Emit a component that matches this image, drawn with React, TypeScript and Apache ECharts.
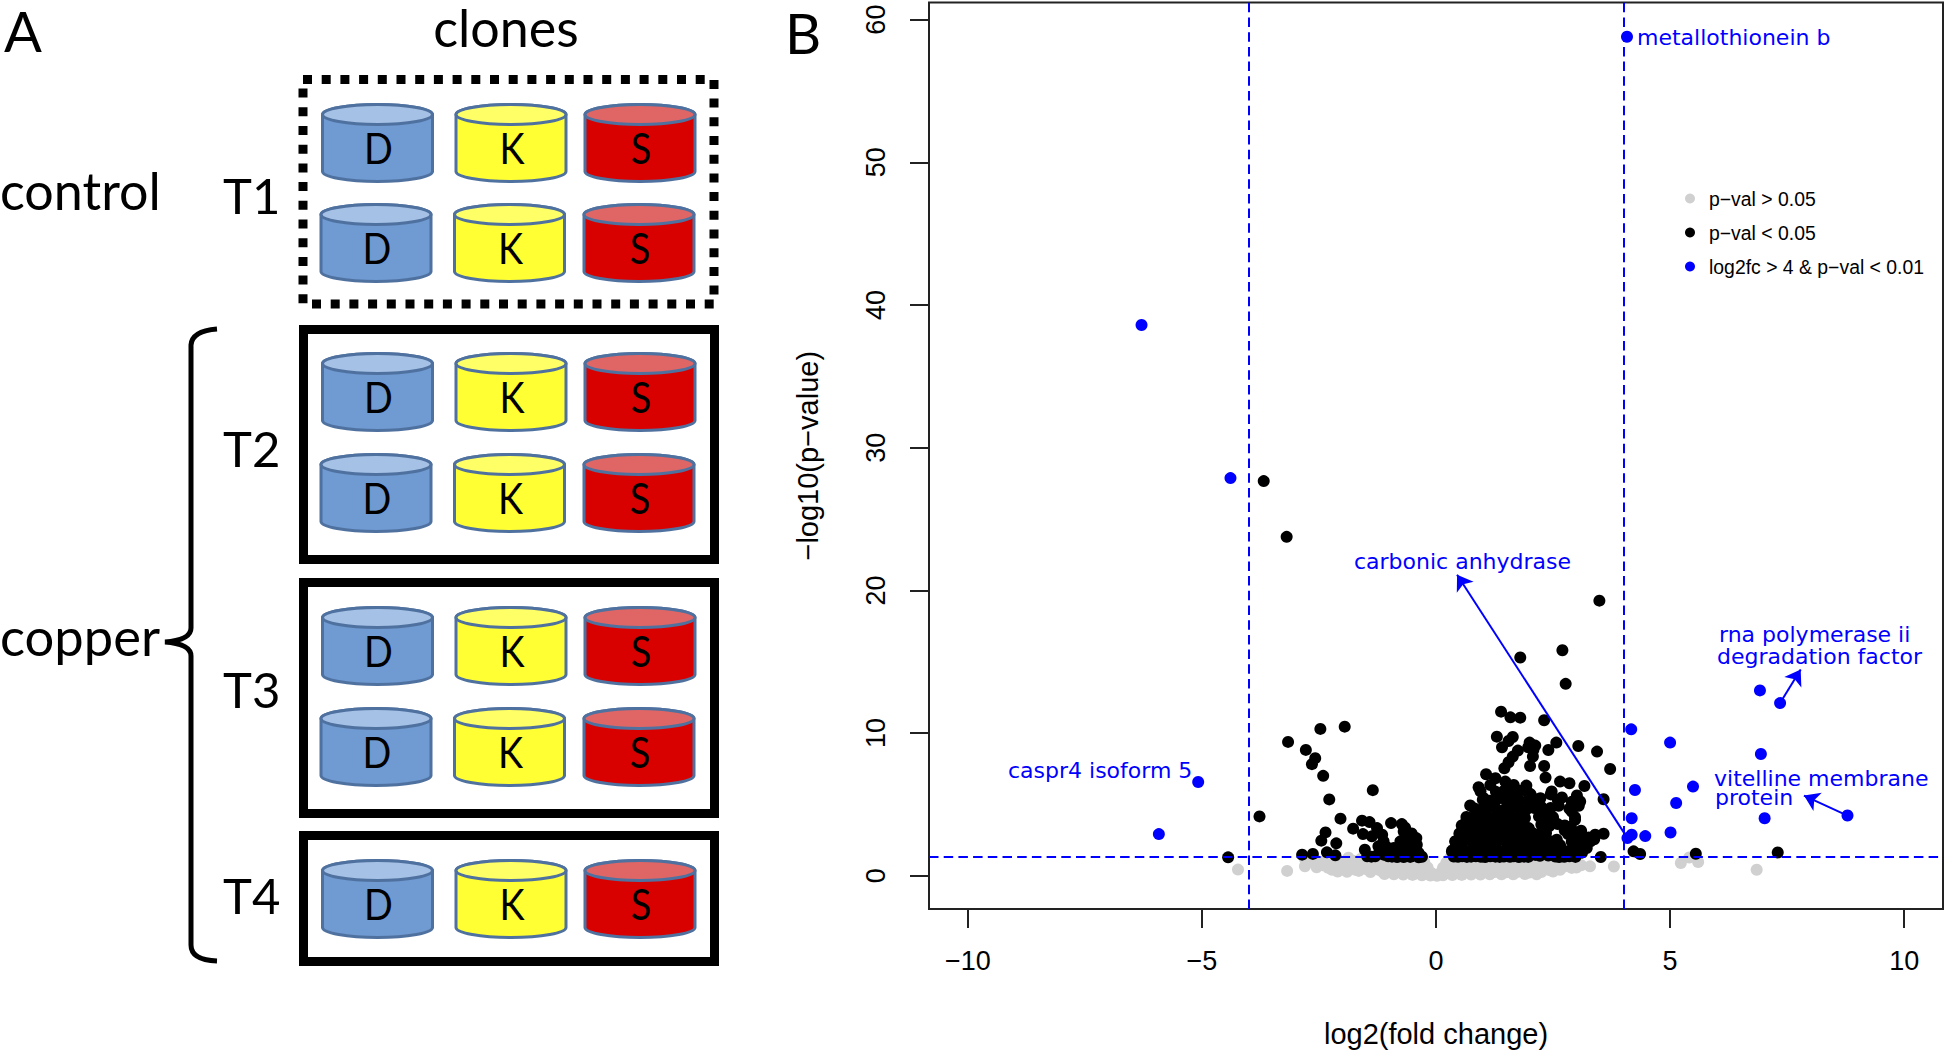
import React, { useEffect, useRef } from "react";
import * as echarts from "echarts";

const xTicks = [-10, -5, 0, 5, 10];
const yTicks = [0, 10, 20, 30, 40, 50, 60];
const foldChangeLimits = [-4, 4];
const pValueLimit = 1.32;

const legendNames = ["p−val > 0.05", "p−val < 0.05", "log2fc > 4 & p−val < 0.01"];

const clones = ["D", "K", "S"];
const bodyColors = ["#6F9AD2", "#FFFF33", "#D90000"];
const capColors = ["#A6C1E6", "#FFFF66", "#E06666"];

const bluePoints = [
  [4.08, 58.8], [-6.29, 38.6], [-4.39, 27.87], [-5.08, 6.57], [-5.92, 2.92],
  [4.17, 10.26], [5.0, 9.33], [6.92, 12.99], [7.35, 12.1], [6.94, 8.53],
  [5.49, 6.25], [4.25, 6.01], [5.13, 5.1], [4.18, 4.03], [7.02, 4.03],
  [8.79, 4.22], [5.01, 3.03], [4.18, 2.87], [4.09, 2.64], [4.47, 2.78],
];

const blackOutliers = [
  [-3.68, 27.66], [-3.19, 23.75], [3.49, 19.28], [1.8, 15.3], [2.7, 15.8], [2.77, 13.45],
  [-4.44, 1.29], [-3.77, 4.16], [-3.16, 9.38], [-2.47, 10.29], [-1.95, 10.45], [-2.78, 8.82],
  [-2.58, 8.24], [-2.65, 7.82], [-2.41, 7.0], [-2.28, 5.35], [-1.35, 6.0], [-2.04, 4.0],
  [-1.77, 3.3], [-2.36, 3.04], [-2.45, 2.46], [-2.13, 2.27], [-2.33, 1.64], [-2.15, 1.43],
  [-2.86, 1.48], [-2.63, 1.53], [4.22, 1.71], [4.36, 1.52], [5.55, 1.54], [7.3, 1.63], [3.52, 1.31],
];

const blackLeftCluster = [
  [-1.58, 3.86], [-1.42, 3.76], [-1.56, 2.92], [-1.26, 3.34], [-1.37, 2.76], [-1.15, 2.88],
  [-1.12, 2.41], [-1.23, 2.06], [-1.52, 1.83], [-1.47, 1.36], [-1.3, 1.36], [-1.12, 1.48],
  [-0.96, 3.69], [-0.73, 3.62], [-0.69, 3.11], [-0.59, 2.76], [-0.42, 2.64], [-0.76, 2.41],
  [-0.59, 2.3], [-0.41, 2.18], [-0.9, 1.95], [-0.76, 1.83], [-0.55, 1.71], [-0.37, 1.6],
  [-0.83, 1.31], [-0.69, 1.31], [-0.55, 1.32], [-0.37, 1.3], [-0.3, 1.33], [-0.94, 1.34],
  [-1.2, 1.7], [-1.05, 2.0], [-0.65, 1.55], [-0.46, 1.95], [-0.66, 3.36], [-0.52, 2.96],
  [-1.38, 1.34], [-1.02, 1.36],
];

const blackRightTop = [
  [1.39, 11.5], [1.59, 11.1], [1.8, 11.08], [2.31, 10.9], [1.3, 9.75], [1.64, 9.72], [1.55, 9.44],
  [1.41, 9.0], [1.75, 8.77], [2.0, 9.33], [2.12, 9.12], [1.97, 9.0], [2.08, 8.81], [2.4, 8.81],
  [2.57, 9.33], [3.04, 9.09], [3.44, 8.7], [3.72, 7.48], [1.64, 8.35], [1.55, 7.95], [1.46, 7.53],
  [2.07, 8.35], [2.01, 7.69], [2.31, 7.69], [2.34, 6.88], [2.65, 6.6], [2.85, 6.48], [3.17, 6.29],
  [3.58, 5.36], [1.07, 7.11], [1.27, 6.83], [1.48, 6.6], [1.66, 6.36], [1.93, 6.32], [0.91, 6.2],
  [1.16, 6.36], [1.02, 5.43], [0.73, 4.92], [0.95, 4.38], [0.65, 3.85], [0.41, 2.4], [0.34, 1.7],
  [3.58, 2.94], [3.4, 2.87], [3.26, 2.68], [2.97, 3.92], [2.9, 4.5], [3.08, 5.2], [3.01, 5.62],
  [2.47, 5.9], [2.69, 5.48], [2.23, 5.43],
];

const blackRightCloud = [
  [0.38, 1.35], [0.47, 1.33], [0.56, 1.36], [0.66, 1.32], [0.75, 1.34], [0.85, 1.37], [0.96, 1.33],
  [1.05, 1.31], [1.16, 1.36], [1.27, 1.34], [1.36, 1.32], [1.45, 1.35], [1.58, 1.33], [1.66, 1.36],
  [1.77, 1.31], [1.88, 1.34], [1.97, 1.32], [2.55, 1.35], [2.63, 1.31], [2.74, 1.33], [2.85, 1.36],
  [2.98, 1.32],
  [0.35, 1.78], [0.48, 1.84], [0.62, 1.72], [0.78, 1.88], [0.93, 1.76], [1.08, 1.82], [1.21, 1.9],
  [1.36, 1.74], [1.5, 1.86], [1.65, 1.79], [1.82, 1.9], [1.95, 1.72], [2.1, 1.85], [2.22, 1.92],
  [2.36, 1.88], [2.5, 1.77], [2.68, 1.9], [2.85, 1.74], [2.98, 1.86], [3.1, 1.94],
  [0.42, 2.41], [0.57, 2.36], [0.73, 2.46], [0.88, 2.38], [1.02, 2.44], [1.19, 2.34], [1.33, 2.47],
  [1.5, 2.4], [1.66, 2.35], [1.8, 2.48], [1.98, 2.42], [2.14, 2.36], [2.3, 2.5], [2.44, 2.42],
  [2.58, 2.52], [2.9, 2.38], [3.02, 2.46], [3.15, 2.52],
  [0.5, 2.96], [0.64, 3.02], [0.8, 2.92], [0.95, 3.0], [1.12, 2.94], [1.27, 3.04], [1.43, 2.98],
  [1.6, 2.9], [1.75, 3.05], [1.9, 2.95], [2.05, 3.02], [2.2, 2.93], [2.35, 3.0], [2.82, 2.92], [2.98, 3.04],
  [0.55, 3.52], [0.7, 3.46], [0.85, 3.56], [1.0, 3.48], [1.18, 3.55], [1.33, 3.44], [1.5, 3.58],
  [1.65, 3.5], [1.82, 3.42], [1.98, 3.34], [2.25, 3.6], [2.42, 3.48], [2.6, 3.62], [2.75, 3.52], [2.88, 3.44],
  [0.65, 4.12], [0.8, 4.05], [0.95, 4.18], [1.1, 4.08], [1.27, 4.14], [1.42, 4.02], [1.58, 4.2],
  [1.75, 4.1], [1.9, 4.04], [2.2, 4.16], [2.35, 4.22], [2.5, 4.1], [2.97, 4.1],
  [0.82, 4.72], [0.98, 4.66], [1.12, 4.78], [1.28, 4.7], [1.45, 4.62], [1.6, 4.76], [1.78, 4.68],
  [1.92, 4.6], [2.1, 4.74], [2.25, 4.82], [2.45, 4.75], [2.62, 4.9], [2.85, 4.7],
  [1.0, 5.32], [1.15, 5.26], [1.3, 5.36], [1.5, 5.28], [1.62, 5.4], [1.78, 5.3], [1.96, 5.24],
  [2.1, 5.38], [2.6, 5.32], [2.9, 5.18], [3.05, 4.9],
  [0.95, 5.92], [1.28, 5.88], [1.45, 5.94], [1.6, 5.84], [1.78, 5.96], [1.95, 5.9], [2.02, 5.72], [2.45, 5.7],
  [3.2, 2.2], [3.05, 2.72], [3.3, 2.42], [3.12, 1.62], [2.65, 2.14], [2.75, 3.18], [3.22, 1.95], [3.38, 2.55],
  [3.1, 3.16], [2.22, 1.4], [2.4, 1.42], [2.12, 1.46],
];

const grayPoints = [
  [-4.23, 0.43], [-3.18, 0.34], [3.8, 0.65], [5.23, 0.89], [5.41, 1.28], [5.6, 0.96], [6.85, 0.42],
  [3.29, 0.66], [2.9, 0.55],
  [-2.8, 1.18], [-2.6, 1.22], [-2.3, 1.16], [-1.87, 1.27], [-1.6, 1.2], [-1.3, 1.24], [-1.0, 1.18],
  [-0.7, 1.23], [-0.45, 1.2], [-0.32, 1.26], [0.3, 1.24], [0.5, 1.2], [0.8, 1.26], [1.1, 1.18],
  [1.4, 1.23], [1.7, 1.2], [2.0, 1.25], [2.3, 1.17], [2.55, 1.22], [2.75, 1.12],
  [-2.75, 0.92], [-2.5, 0.86], [-2.2, 0.95], [-1.95, 0.88], [-1.7, 0.93], [-1.45, 0.85], [-1.2, 0.9],
  [-0.95, 0.94], [-0.7, 0.86], [-0.48, 0.91], [-0.25, 0.95], [0.22, 0.92], [0.45, 0.86], [0.7, 0.94],
  [0.95, 0.88], [1.2, 0.93], [1.5, 0.86], [1.75, 0.91], [2.0, 0.84], [2.25, 0.93], [2.5, 0.87],
  [2.7, 0.94], [2.95, 0.88], [3.1, 0.74],
  [-2.8, 0.66], [-2.55, 0.6], [-2.3, 0.55], [-2.05, 0.62], [-1.8, 0.56], [-1.55, 0.6], [-1.3, 0.52],
  [-1.05, 0.58], [-0.8, 0.55], [-0.55, 0.6], [-0.35, 0.53], [-0.18, 0.58], [0.15, 0.56], [0.35, 0.6],
  [0.6, 0.52], [0.85, 0.58], [1.1, 0.54], [1.35, 0.6], [1.6, 0.52], [1.85, 0.57], [2.1, 0.62],
  [2.35, 0.54], [2.6, 0.6],
  [-2.1, 0.3], [-1.9, 0.28], [-1.65, 0.34], [-1.4, 0.26], [-1.15, 0.3], [-0.9, 0.24], [-0.65, 0.28],
  [-0.45, 0.22], [-0.25, 0.26], [-0.1, 0.2], [0.1, 0.22], [0.28, 0.26], [0.5, 0.24], [0.75, 0.28],
  [1.0, 0.22], [1.25, 0.26], [1.5, 0.24], [1.75, 0.28], [2.0, 0.22], [2.25, 0.26], [2.5, 0.3],
  [-1.1, 0.12], [-0.9, 0.1], [-0.7, 0.08], [-0.5, 0.06], [-0.3, 0.04], [-0.12, 0.02], [0.02, 0.0],
  [0.15, 0.03], [0.35, 0.05], [0.55, 0.06], [0.75, 0.08], [0.95, 0.09], [1.15, 0.1], [1.4, 0.11],
  [1.65, 0.1], [1.9, 0.12], [2.15, 0.11],
  [-2.62, 1.05], [-2.38, 1.02], [-2.08, 1.08], [-1.78, 1.06], [-1.48, 1.04], [-1.12, 1.07], [-0.82, 1.03],
  [-0.58, 1.06], [-0.38, 1.05], [0.35, 1.07], [0.62, 1.04], [0.92, 1.08], [1.28, 1.03], [1.58, 1.06],
  [1.88, 1.04], [2.15, 1.07], [2.42, 1.03], [2.62, 1.05], [2.88, 0.72],
  [-2.42, 0.74], [-2.18, 0.72], [-1.92, 0.75], [-1.62, 0.73], [-1.38, 0.76], [-1.12, 0.72], [-0.88, 0.74],
  [-0.62, 0.72], [-0.42, 0.75], [0.25, 0.74], [0.52, 0.72], [0.78, 0.75], [1.02, 0.73], [1.28, 0.76],
  [1.52, 0.72], [1.78, 0.75], [2.02, 0.73], [2.28, 0.74], [2.72, 0.62], [3.0, 0.58],
  [-2.22, 0.42], [-1.98, 0.44], [-1.72, 0.42], [-1.48, 0.45], [-1.22, 0.41], [-0.98, 0.43], [-0.72, 0.4],
  [-0.52, 0.43], [0.42, 0.4], [0.68, 0.42], [0.92, 0.41], [1.18, 0.44], [1.42, 0.4], [1.68, 0.43],
  [1.92, 0.41], [2.18, 0.42], [2.42, 0.4], [2.65, 0.42],
];

const arrowSegments = [
  [[4.09, 2.64], [0.45, 21.1]],
  [[7.35, 12.1], [7.79, 14.45]],
  [[8.79, 4.22], [7.86, 5.62]],
];

const BLUE = "#0000FF";
const CYL_W = 110;
const CYL_H = 77;
const CYL_RY = 10;

echarts.graphic.registerShape(
  "cylBody",
  echarts.graphic.extendPath(
    `M0 ${CYL_RY} L0 ${CYL_H - CYL_RY} A${CYL_W / 2} ${CYL_RY} 0 0 0 ${CYL_W} ${CYL_H - CYL_RY} L${CYL_W} ${CYL_RY} A${CYL_W / 2} ${CYL_RY} 0 0 0 0 ${CYL_RY} Z`,
    {}
  )
);
echarts.graphic.registerShape(
  "brace",
  echarts.graphic.extendPath(
    "M217 329 Q192 331 191 345 L191 628 Q191 640 165 642 Q191 644 191 656 L191 945 Q191 960 217 961",
    {}
  )
);

function cylinder(col: number, x: number, y: number) {
  const letter = clones[col];
  return {
    type: "group",
    x,
    y,
    children: [
      { type: "cylBody", style: { fill: bodyColors[col], stroke: "#4F719F", lineWidth: 3 } },
      {
        type: "ellipse",
        shape: { cx: CYL_W / 2, cy: CYL_RY, rx: CYL_W / 2, ry: CYL_RY },
        style: { fill: capColors[col], stroke: "#4F719F", lineWidth: 3 },
      },
      {
        type: "text",
        x: CYL_W / 2 + 1,
        y: 43.5,
        scaleX: 0.88,
        style: {
          text: letter,
          fontFamily: "Lato",
          fontSize: 43,
          fill: "#000",
          align: "center",
          verticalAlign: "middle",
        },
      },
    ],
  };
}

function label(text: string, x: number, y: number, size: number, align = "left", family = "Lato") {
  return {
    type: "text",
    x,
    y,
    style: {
      text,
      fontFamily: family,
      fontSize: size,
      fill: family === "Lato" ? "#000" : BLUE,
      align,
      verticalAlign: "middle",
    },
  };
}

function box(x: number, y: number, w: number, h: number, dashed = false) {
  return {
    type: "rect",
    shape: { x, y, width: w, height: h },
    style: {
      fill: "none",
      stroke: "#000",
      lineWidth: 9,
      lineDash: dashed ? [9, 9.7] : undefined,
    },
  };
}

function panelA() {
  const out: any[] = [];
  out.push(box(303, 79.5, 411, 224.5, true));
  out.push(box(303.5, 329.5, 411, 230));
  out.push(box(303.5, 582.5, 411, 231));
  out.push(box(303.5, 835.5, 411, 126));
  const upperX = [322.5, 456, 585];
  const lowerX = [321, 454.5, 584];
  const rowTops: [number, number[]][] = [
    [104.5, upperX], [204.5, lowerX], [353.5, upperX], [454.5, lowerX],
    [607.5, upperX], [708.5, lowerX], [860.5, upperX],
  ];
  rowTops.forEach(([y, xs]) => xs.forEach((x, c) => out.push(cylinder(c, x, y))));
  out.push({ type: "brace", style: { fill: "none", stroke: "#000", lineWidth: 5 } });
  out.push(label("A", 4, 30, 56));
  out.push(label("B", 785, 32, 56));
  out.push(label("clones", 506, 27, 52, "center"));
  out.push(label("control", 0, 190, 52));
  out.push(label("copper", 0, 635, 52.5));
  out.push(label("T1", 223, 195, 49));
  out.push(label("T2", 223, 448, 49));
  out.push(label("T3", 223, 689, 49));
  out.push(label("T4", 223, 895, 49));
  const F = "DejaVu Sans";
  out.push(label("metallothionein b", 1637, 37, 22, "left", F));
  out.push(label("caspr4 isoform 5", 1008, 770, 22, "left", F));
  out.push(label("carbonic anhydrase", 1354, 561, 22, "left", F));
  out.push(label("rna polymerase ii", 1719, 634, 22, "left", F));
  out.push(label("degradation factor", 1717, 656, 22, "left", F));
  out.push(label("vitelline membrane", 1714, 778, 22, "left", F));
  out.push(label("protein", 1715, 797, 22, "left", F));
  return out;
}

const minusFmt = (v: number) => String(v).replace("-", "−");
const AXIS_FONT = "Liberation Sans";

export default function App() {
  const ref = useRef<HTMLDivElement>(null);
  useEffect(() => {
    if (!ref.current) return;
    const chart = echarts.init(ref.current, undefined, { renderer: "svg" });
    const pointStyle = (color: string) => ({ color, opacity: 1 });
    chart.setOption({
      animation: false,
      backgroundColor: "#fff",
      grid: {
        left: 929,
        right: 3,
        top: 2.5,
        bottom: 142,
        show: true,
        borderColor: "#222",
        borderWidth: 2,
        backgroundColor: "transparent",
      },
      legend: {
        data: legendNames,
        orient: "vertical",
        left: 1680,
        top: 184,
        itemWidth: 10,
        itemHeight: 10,
        itemGap: 15,
        icon: "circle",
        selectedMode: false,
        textStyle: { fontFamily: AXIS_FONT, fontSize: 19.4, color: "#000", padding: [0, 0, 0, 9] },
      },
      xAxis: {
        type: "value",
        min: -10.83,
        max: 10.83,
        splitLine: { show: false },
        axisLine: { show: false, onZero: false },
        axisTick: { show: true, length: 19, customValues: xTicks, lineStyle: { color: "#222", width: 2 } },
        axisLabel: {
          customValues: xTicks,
          formatter: minusFmt,
          fontFamily: AXIS_FONT,
          fontSize: 27,
          color: "#000",
          margin: 38,
        },
        name: "log2(fold change)",
        nameLocation: "middle",
        nameGap: 110,
        nameTextStyle: { fontFamily: AXIS_FONT, fontSize: 29, color: "#000" },
      },
      yAxis: {
        type: "value",
        min: -2.33,
        max: 61.2,
        splitLine: { show: false },
        axisLine: { show: false, onZero: false },
        axisTick: { show: true, length: 19, customValues: yTicks, lineStyle: { color: "#222", width: 2 } },
        axisLabel: {
          customValues: yTicks,
          rotate: 90,
          formatter: minusFmt,
          fontFamily: AXIS_FONT,
          fontSize: 27,
          color: "#000",
          margin: 40,
        },
        name: "−log10(p−value)",
        nameLocation: "middle",
        nameGap: 107,
        nameTextStyle: { fontFamily: AXIS_FONT, fontSize: 29, color: "#000" },
      },
      graphic: { elements: panelA() },
      series: [
        {
          name: legendNames[0],
          type: "scatter",
          symbolSize: 12,
          data: grayPoints,
          itemStyle: pointStyle("#D0D0D0"),
          z: 2,
        },
        {
          name: legendNames[1],
          type: "scatter",
          symbolSize: 12,
          data: [...blackOutliers, ...blackLeftCluster, ...blackRightTop, ...blackRightCloud],
          itemStyle: pointStyle("#000000"),
          z: 3,
        },
        {
          name: legendNames[2],
          type: "scatter",
          symbolSize: 12,
          data: bluePoints,
          itemStyle: pointStyle(BLUE),
          z: 4,
        },
        {
          name: "thresholds",
          type: "scatter",
          data: [],
          z: 5,
          markLine: {
            silent: true,
            symbol: "none",
            animation: false,
            label: { show: false },
            lineStyle: { color: BLUE, width: 2, type: [9.5, 5.2], opacity: 1 },
            data: [
              ...foldChangeLimits.map((v) => ({ xAxis: v })),
              { yAxis: pValueLimit },
            ],
          },
        },
        {
          name: "arrows",
          type: "scatter",
          data: [],
          z: 5,
          markLine: {
            silent: true,
            symbol: ["none", "arrow"],
            symbolSize: 15,
            animation: false,
            label: { show: false },
            lineStyle: { color: BLUE, width: 2, type: "solid", opacity: 1 },
            itemStyle: { color: BLUE },
            data: arrowSegments.map(([a, b]) => [
              { coord: a, symbol: "none" },
              { coord: b, symbol: "arrow", symbolSize: 15 },
            ]),
          },
        },
      ],
    });
    return () => chart.dispose();
  }, []);
  return <div ref={ref} style={{ position: "fixed", left: 0, top: 0, width: 1946, height: 1053 }} />;
}
